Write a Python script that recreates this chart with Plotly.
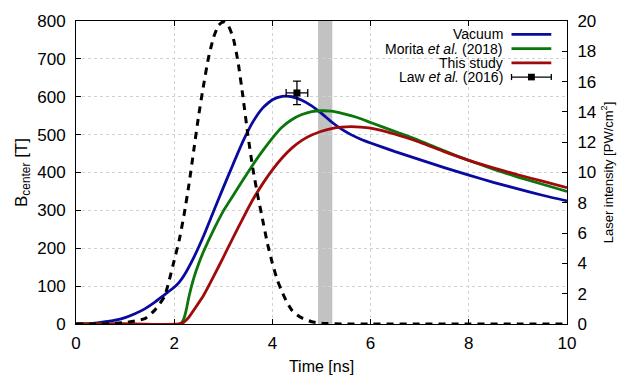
import plotly.graph_objects as go

# ---------------- data ----------------
t_vac = [0, 0.3, 0.5, 0.8, 1.0, 1.2, 1.4, 1.6, 1.8, 2.0, 2.1, 2.2, 2.4, 2.6, 2.8, 3.0, 3.2, 3.4, 3.6, 3.8,
         4.0, 4.2, 4.4, 4.6, 4.8, 5.0, 5.2, 5.4, 5.6, 5.8, 6.0, 6.5, 7.0, 7.5, 8.0, 8.5, 9.0, 9.5, 10.0]
b_vac = [0, 1, 4, 10, 17, 27, 40, 57, 77, 97, 110, 128, 176, 233, 297, 360, 422, 482, 533, 570,
         592, 601, 600, 591, 576, 556, 534, 515, 500, 488, 478, 455, 434, 413, 393, 374, 357, 340, 325]

t_mor = [0, 1.0, 2.1, 2.15, 2.2, 2.25, 2.3, 2.4, 2.5, 2.6, 2.8, 3.0, 3.2, 3.4, 3.6, 3.8, 4.0, 4.2, 4.4,
         4.6, 4.8, 5.0, 5.2, 5.4, 5.6, 5.8, 6.0, 6.5, 7.0, 7.5, 8.0, 8.5, 9.0, 9.5, 10.0]
b_mor = [0, 0, 0, 3, 15, 40, 72, 122, 160, 192, 248, 298, 339, 380, 420, 457, 491, 520, 540,
         553, 561, 563, 562, 557, 550, 542, 532, 508, 484, 457, 432, 409, 388, 369, 350]

t_this = [0, 1.0, 2.1, 2.2, 2.3, 2.4, 2.6, 2.8, 3.0, 3.2, 3.4, 3.6, 3.8, 4.0, 4.2, 4.4, 4.6, 4.8,
          5.0, 5.2, 5.4, 5.6, 5.8, 6.0, 6.5, 7.0, 7.5, 8.0, 8.5, 9.0, 9.5, 10.0]
b_this = [0, 0, 0, 5, 18, 37, 76, 125, 176, 228, 279, 328, 370, 407, 439, 465, 485, 499,
          509, 516, 520, 521, 520, 517, 501, 480, 455, 432, 412, 394, 377, 360]

t_laser = [0, 0.5, 1.0, 1.2, 1.4, 1.6, 1.8, 1.9, 2.0, 2.1, 2.2, 2.3, 2.4, 2.5, 2.6, 2.7, 2.8, 2.9, 3.0,
           3.1, 3.2, 3.3, 3.4, 3.5, 3.6, 3.7, 3.8, 3.9, 4.0, 4.1, 4.2, 4.3, 4.4, 4.5, 4.6, 4.8, 5.0,
           5.5, 6.0, 7.0, 8.0, 9.0, 10.0]
i_laser = [0, 0, 0.1, 0.2, 0.35, 0.9, 1.8, 2.9, 4.2, 5.5, 7.2, 9.2, 11.5, 13.8, 15.8, 17.6, 18.9, 19.7, 19.95,
           19.7, 18.9, 17.3, 15.0, 12.5, 10.3, 8.5, 6.9, 5.3, 4.0, 2.9, 2.1, 1.4, 0.9, 0.6, 0.4, 0.15, 0.05,
           0, 0, 0, 0, 0, 0]

law_t = [4.5]
law_b = [610]
law_t_err = [0.22]
law_b_err = [31]

band_x = [4.93, 5.22]

x_ticks = [0, 2, 4, 6, 8, 10]
y_ticks = [0, 100, 200, 300, 400, 500, 600, 700, 800]
y2_ticks = [0, 2, 4, 6, 8, 10, 12, 14, 16, 18, 20]

legend_names = ["Vacuum", "Morita <i>et al.</i> (2018)", "This study", "Law <i>et al.</i> (2016)"]

# ---------------- style ----------------
BLUE = "#0a0a9e"
GREEN = "#0b760b"
RED = "#a00a0a"
FONT = "Liberation Sans, Arial, sans-serif"

fig = go.Figure()

line_kw = dict(shape="spline", smoothing=0.5, width=2.8)
fig.add_trace(go.Scatter(x=t_vac, y=b_vac, mode="lines", line=dict(color=BLUE, **line_kw), showlegend=False))
fig.add_trace(go.Scatter(x=t_mor, y=b_mor, mode="lines", line=dict(color=GREEN, **line_kw), showlegend=False))
fig.add_trace(go.Scatter(x=t_this, y=b_this, mode="lines", line=dict(color=RED, **line_kw), showlegend=False))
fig.add_trace(go.Scatter(x=t_laser, y=i_laser, mode="lines", yaxis="y2",
                         line=dict(color="black", width=3, dash="7px,6px", shape="spline", smoothing=0.5),
                         showlegend=False))
fig.add_trace(go.Scatter(x=law_t, y=law_b, mode="markers",
                         marker=dict(symbol="square", size=7, color="black"),
                         error_x=dict(type="data", array=law_t_err, color="black", thickness=1.3, width=4),
                         error_y=dict(type="data", array=law_b_err, color="black", thickness=1.3, width=4),
                         showlegend=False))

# gray band
fig.add_shape(type="rect", xref="x", yref="paper", x0=band_x[0], x1=band_x[1], y0=0, y1=1,
              fillcolor="#c2c2c2", line=dict(width=0), layer="between")

# custom legend (text on the left, sample on the right)
leg_colors = [BLUE, GREEN, RED, "black"]
leg_y = [0.956, 0.909, 0.862, 0.815]
tx = 0.872
sx0, sx1 = 0.887, 0.968
for name, col, yy in zip(legend_names, leg_colors, leg_y):
    fig.add_annotation(x=tx, y=yy, xref="paper", yref="paper", text=name, showarrow=False,
                       xanchor="right", yanchor="middle", borderpad=0,
                       font=dict(family=FONT, size=14, color="black"))
    w = 2.8 if col != "black" else 1.3
    fig.add_shape(type="line", xref="paper", yref="paper", x0=sx0, x1=sx1, y0=yy, y1=yy,
                  line=dict(color=col, width=w))
# error bar sample decoration
ey = leg_y[3]
dy = 0.010
for xx in (sx0, sx1):
    fig.add_shape(type="line", xref="paper", yref="paper", x0=xx, x1=xx, y0=ey - dy, y1=ey + dy,
                  line=dict(color="black", width=1.3))
xm = (sx0 + sx1) / 2
fig.add_shape(type="rect", xref="paper", yref="paper", x0=xm - 0.007, x1=xm + 0.007,
              y0=ey - 0.011, y1=ey + 0.011, fillcolor="black", line=dict(width=0))

axis_common = dict(showline=True, linecolor="black", linewidth=1, ticks="inside", ticklen=5,
                   tickcolor="black", tickfont=dict(family=FONT, size=17, color="black"), zeroline=False)

fig.update_layout(
    width=635, height=385,
    margin=dict(l=76, r=68, t=14, b=47),
    paper_bgcolor="white", plot_bgcolor="white",
    font=dict(family=FONT, color="black"),
    xaxis=dict(range=[0, 10], tickvals=x_ticks, mirror="ticks",
               showgrid=True, gridcolor="#d2d2d2", griddash="dot", gridwidth=1,
               title=dict(text="Time [ns]", font=dict(family=FONT, size=16), standoff=8),
               ticklabelstandoff=4, **axis_common),
    yaxis=dict(range=[0, 800], tickvals=y_ticks,
               showgrid=True, gridcolor="#d2d2d2", griddash="dot", gridwidth=1,
               title=dict(text="B<sub>center</sub> [T]", font=dict(family=FONT, size=17), standoff=5),
               ticklabelstandoff=6, **axis_common),
    yaxis2=dict(range=[0, 20], tickvals=y2_ticks, overlaying="y", side="right", showgrid=False,
                title=dict(text="Laser intensity [PW/cm<sup>2</sup>]", font=dict(family=FONT, size=13), standoff=8),
                ticklabelstandoff=6, **axis_common),
)

fig.write_html("out.html")
